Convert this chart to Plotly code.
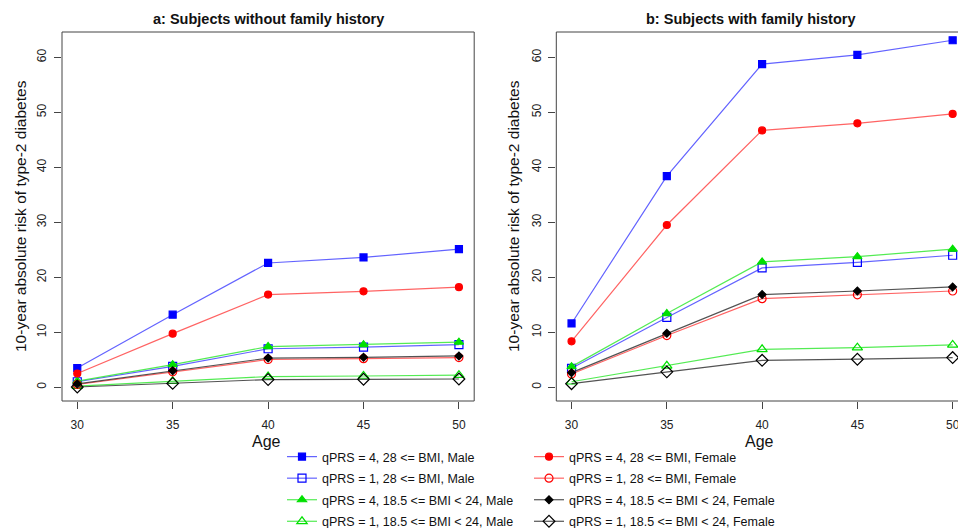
import plotly.graph_objects as go

ages = [30, 35, 40, 45, 50]

# Panel a: subjects without family history
a_q4_obese_male = [3.5, 13.2, 22.6, 23.6, 25.1]
a_q1_obese_male = [1.0, 3.8, 7.0, 7.3, 7.75]
a_q4_normal_male = [1.1, 4.1, 7.4, 7.75, 8.2]
a_q1_normal_male = [0.2, 1.1, 1.95, 2.05, 2.2]
a_q4_obese_female = [2.5, 9.75, 16.85, 17.45, 18.2]
a_q1_obese_female = [0.5, 2.8, 5.05, 5.2, 5.4]
a_q4_normal_female = [0.6, 3.0, 5.3, 5.45, 5.7]
a_q1_normal_female = [0.05, 0.7, 1.4, 1.45, 1.5]

# Panel b: subjects with family history
b_q4_obese_male = [11.6, 38.4, 58.75, 60.45, 63.1]
b_q1_obese_male = [3.45, 12.7, 21.7, 22.7, 24.0]
b_q4_normal_male = [3.75, 13.4, 22.8, 23.75, 25.1]
b_q1_normal_male = [1.0, 3.9, 6.9, 7.2, 7.7]
b_q4_obese_female = [8.35, 29.5, 46.7, 48.0, 49.7]
b_q1_obese_female = [2.4, 9.4, 16.1, 16.8, 17.5]
b_q4_normal_female = [2.65, 9.8, 16.85, 17.5, 18.25]
b_q1_normal_female = [0.65, 2.8, 4.9, 5.1, 5.4]

series_names = [
    "qPRS = 4, 28 <= BMI, Male",
    "qPRS = 1, 28 <= BMI, Male",
    "qPRS = 4, 18.5 <= BMI < 24, Male",
    "qPRS = 1, 18.5 <= BMI < 24, Male",
    "qPRS = 4, 28 <= BMI, Female",
    "qPRS = 1, 28 <= BMI, Female",
    "qPRS = 4, 18.5 <= BMI < 24, Female",
    "qPRS = 1, 18.5 <= BMI < 24, Female",
]
panel_a = [a_q4_obese_male, a_q1_obese_male, a_q4_normal_male, a_q1_normal_male,
           a_q4_obese_female, a_q1_obese_female, a_q4_normal_female, a_q1_normal_female]
panel_b = [b_q4_obese_male, b_q1_obese_male, b_q4_normal_male, b_q1_normal_male,
           b_q4_obese_female, b_q1_obese_female, b_q4_normal_female, b_q1_normal_female]

title_a = "a: Subjects without family history"
title_b = "b: Subjects with family history"
x_title = "Age"
y_title = "10-year absolute risk of type-2 diabetes"
y_ticks = [0, 10, 20, 30, 40, 50, 60]
x_ticks = [30, 35, 40, 45, 50]

BLUE, RED, GREEN, BLACK = "#0000FF", "#FF0000", "#00E000", "#000000"
styles = [
    dict(color=BLUE, line="rgba(60,60,255,0.8)", symbol="square", size=7),
    dict(color=BLUE, line="rgba(60,60,255,0.8)", symbol="square-open", size=8),
    dict(color=GREEN, line="rgba(40,230,40,0.8)", symbol="triangle-up", size=8),
    dict(color=GREEN, line="rgba(40,230,40,0.8)", symbol="triangle-up-open", size=9),
    dict(color=RED, line="rgba(255,60,60,0.8)", symbol="circle", size=7),
    dict(color=RED, line="rgba(255,60,60,0.8)", symbol="circle-open", size=8),
    dict(color=BLACK, line="rgba(40,40,40,0.8)", symbol="diamond", size=6),
    dict(color=BLACK, line="rgba(40,40,40,0.8)", symbol="diamond-open", size=9),
]

FONT = "Liberation Sans, Arial, Helvetica, sans-serif"
W, H = 958, 528

fig = go.Figure()
for panel, (xa, ya) in [(panel_a, ("x", "y")), (panel_b, ("x2", "y2"))]:
    for i, (name, vals) in enumerate(zip(series_names, panel)):
        st = styles[i]
        fig.add_trace(go.Scatter(
            x=ages, y=vals, name=name, mode="lines+markers",
            xaxis=xa, yaxis=ya,
            line=dict(color=st["line"], width=1.2),
            marker=dict(symbol=st["symbol"], size=st["size"], color=st["color"],
                        line=dict(color=st["color"], width=1.2)),
            showlegend=(xa == "x"),
            legend="legend" if i < 4 else "legend2",
            legendgroup=f"g{i}",
            cliponaxis=False if xa == "x" else True,
        ))

# plot-area pixel geometry
ytop, ybot = 32, 401
a_left, a_right = 62.0, 474.2
b_left = 556.3

def px_x(p):
    return p / W

def px_y(p):
    return 1 - p / H

axis_common = dict(ticks="outside", ticklen=7, tickcolor="#444", tickwidth=1,
                   showgrid=False, zeroline=False, showline=False, automargin=False,
                   ticklabeloverflow="allow",
                   tickfont=dict(family=FONT, size=12, color="#222"))

fig.update_layout(
    template="none",
    width=W, height=H,
    margin=dict(l=0, r=0, t=0, b=0, autoexpand=False),
    plot_bgcolor="white", paper_bgcolor="white",
    font=dict(family=FONT, color="#111"),
    xaxis=dict(domain=[px_x(a_left), px_x(a_right)], range=[29.2, 50.8],
               tickvals=x_ticks, anchor="y", ticklabelstandoff=6, **axis_common),
    yaxis=dict(domain=[px_y(ybot), px_y(ytop)], range=[-2.5, 64.6],
               tickvals=y_ticks, tickangle=-90, anchor="x", ticklabelstandoff=3, **axis_common),
    xaxis2=dict(domain=[px_x(b_left), 1.0], range=[29.2, 50.28],
                tickvals=x_ticks, anchor="y2", ticklabelstandoff=6, **axis_common),
    yaxis2=dict(domain=[px_y(ybot), px_y(ytop)], range=[-2.5, 64.6],
                tickvals=y_ticks, tickangle=-90, anchor="x2", ticklabelstandoff=3, **axis_common),
    legend=dict(x=px_x(282), y=px_y(442), xanchor="left", yanchor="top",
                font=dict(family=FONT, size=12.5, color="#111"),
                itemwidth=30, tracegroupgap=2.3, bgcolor="rgba(0,0,0,0)"),
    legend2=dict(x=px_x(529), y=px_y(442), xanchor="left", yanchor="top",
                 font=dict(family=FONT, size=12.5, color="#111"),
                 itemwidth=30, tracegroupgap=2.3, bgcolor="rgba(0,0,0,0)"),
    showlegend=True,
)

# plot boxes
box = dict(type="rect", xref="paper", yref="paper", line=dict(color="#444", width=1),
           fillcolor="rgba(0,0,0,0)", layer="above")
fig.add_shape(x0=px_x(a_left), x1=px_x(a_right), y0=px_y(ybot), y1=px_y(ytop), **box)
fig.add_shape(x0=px_x(b_left), x1=px_x(968.6), y0=px_y(ybot), y1=px_y(ytop), **box)

ann = []
ann.append(dict(text=f"<b>{title_a}</b>", x=px_x(268), y=px_y(19), font=dict(size=14.5)))
ann.append(dict(text=f"<b>{title_b}</b>", x=px_x(750), y=px_y(19), font=dict(size=14.5)))
ann.append(dict(text=x_title, x=px_x(266), y=px_y(441), font=dict(size=16)))
ann.append(dict(text=x_title, x=px_x(759), y=px_y(441), font=dict(size=16)))
ann.append(dict(text=y_title, x=px_x(20), y=px_y(216), textangle=-90, font=dict(size=15.5)))
ann.append(dict(text=y_title, x=px_x(513), y=px_y(216), textangle=-90, font=dict(size=15.5)))
for a in ann:
    a.update(xref="paper", yref="paper", showarrow=False, xanchor="center", yanchor="middle")
    a["font"].update(family=FONT, color="#111")
fig.update_layout(annotations=ann)

fig.write_html(
    "out.html",
    config={"displayModeBar": False},
    post_script="document.body.style.margin='0';document.body.style.overflow='hidden';",
)
